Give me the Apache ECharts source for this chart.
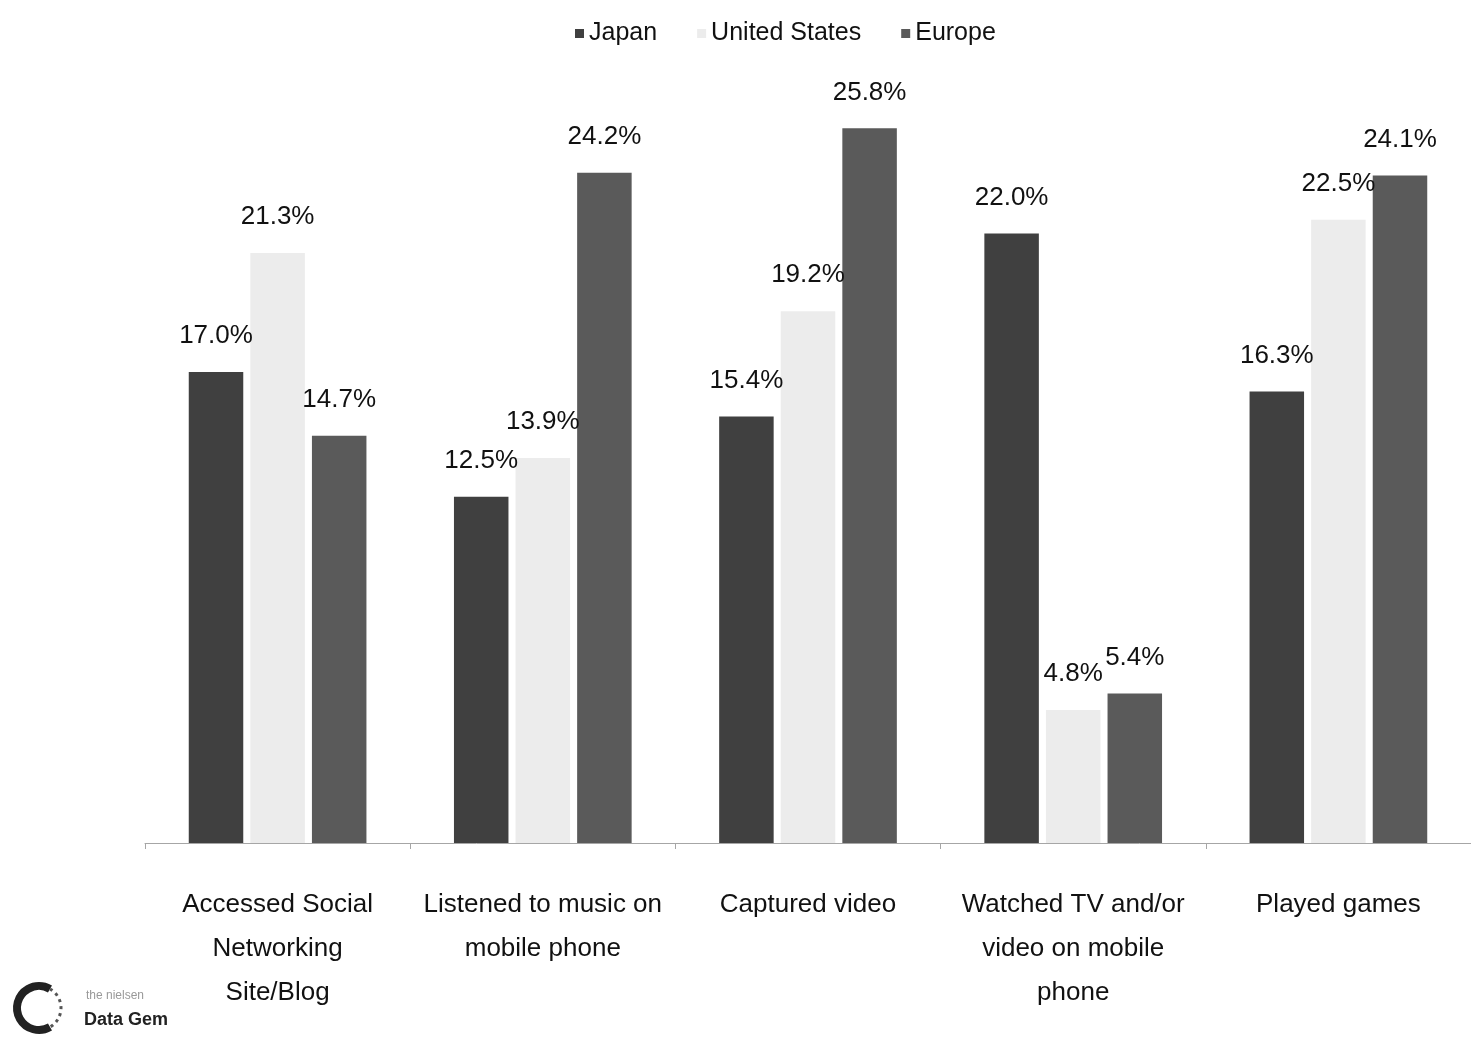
<!DOCTYPE html>
<html>
<head>
<meta charset="utf-8">
<script src="https://cdn.jsdelivr.net/npm/echarts@6/dist/echarts.min.js"></script>
<style>
html,body{margin:0;padding:0;background:#fff;}
#chart{width:1471px;height:1046px;}
</style>
</head>
<body>
<div id="chart"></div>
<script>
const categories = [
  "Accessed Social\nNetworking\nSite/Blog",
  "Listened to music on\nmobile phone",
  "Captured video",
  "Watched TV and/or\nvideo on mobile\nphone",
  "Played games"
];
const seriesNames = ["Japan", "United States", "Europe"];
const japan = [17.0, 12.5, 15.4, 22.0, 16.3];
const unitedStates = [21.3, 13.9, 19.2, 4.8, 22.5];
const europe = [14.7, 24.2, 25.8, 5.4, 24.1];
const colors = ["#404040", "#ececec", "#5a5a5a"];

const FONT = "Liberation Sans, Arial, sans-serif";
const chart = echarts.init(document.getElementById('chart'));

function mkSeries(name, data, color) {
  return {
    name: name,
    type: 'bar',
    data: data,
    barGap: '13%',
    barCategoryGap: '33%',
    itemStyle: { color: color },
    label: {
      show: true,
      position: 'top',
      distance: 23,
      formatter: p => p.value.toFixed(1) + '%',
      fontFamily: FONT,
      fontSize: 26,
      color: '#111'
    }
  };
}

chart.setOption({
  animation: false,
  backgroundColor: '#ffffff',
  color: colors,
  legend: {
    data: seriesNames,
    left: 570,
    top: 16,
    itemWidth: 9,
    itemHeight: 9,
    itemGap: 40,
    icon: 'rect',
    textStyle: { fontFamily: FONT, fontSize: 25, color: '#111' }
  },
  grid: { left: 145, right: 0, top: 12, bottom: 203 },
  xAxis: {
    type: 'category',
    data: categories,
    axisLine: { lineStyle: { color: '#a6a6a6', width: 1 } },
    axisTick: { show: true, length: 6, lineStyle: { color: '#a6a6a6' } },
    axisLabel: {
      margin: 40,
      interval: 0,
      fontFamily: FONT,
      fontSize: 26,
      lineHeight: 44,
      color: '#111'
    }
  },
  yAxis: {
    type: 'value',
    min: 0,
    max: 30,
    show: false,
    splitLine: { show: false }
  },
  series: [
    mkSeries(seriesNames[0], japan, colors[0]),
    mkSeries(seriesNames[1], unitedStates, colors[1]),
    mkSeries(seriesNames[2], europe, colors[2])
  ],
  graphic: [
    {
      type: 'arc',
      shape: { cx: 39, cy: 1008, r: 22, startAngle: Math.PI / 3, endAngle: Math.PI * 5 / 3, clockwise: true },
      style: { stroke: '#222', lineWidth: 8, fill: null }
    },
    {
      type: 'arc',
      shape: { cx: 39, cy: 1008, r: 22, startAngle: -Math.PI / 3, endAngle: Math.PI / 3, clockwise: true },
      style: { stroke: '#555', lineWidth: 3, lineDash: [3, 4], fill: null }
    },
    {
      type: 'text',
      left: 86,
      top: 990,
      style: { text: 'the nielsen', fontFamily: FONT, fontSize: 12, fill: '#999' }
    },
    {
      type: 'text',
      left: 84,
      top: 1011,
      style: { text: 'Data Gem', fontFamily: FONT, fontSize: 18, fontWeight: 'bold', fill: '#222' }
    }
  ]
});
</script>
</body>
</html>
